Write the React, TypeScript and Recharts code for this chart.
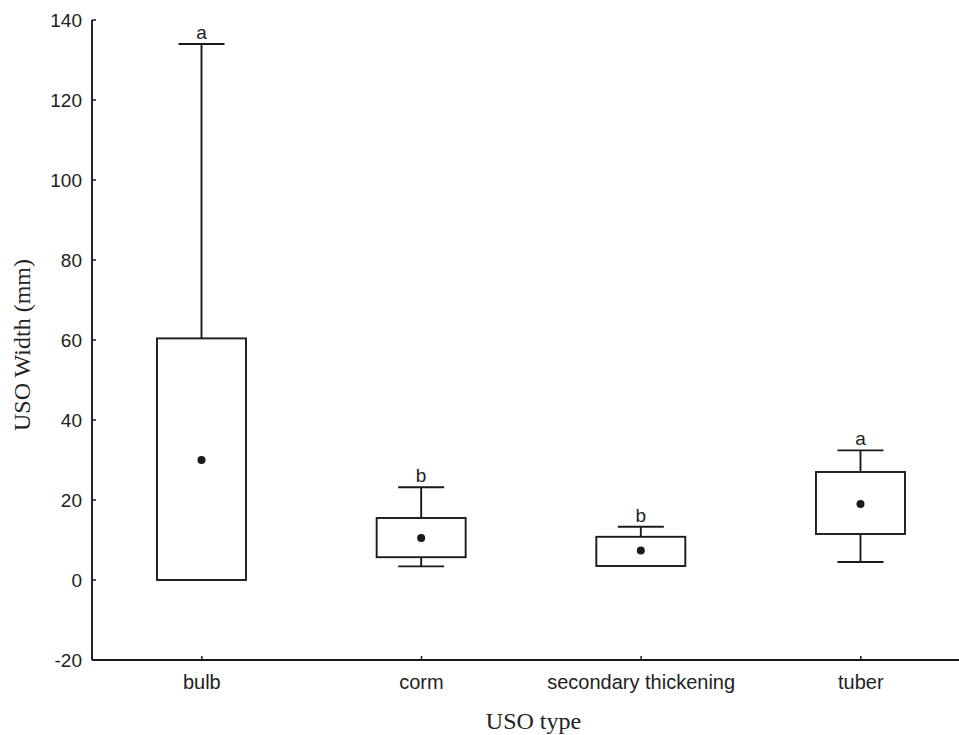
import React from 'react';
import { ComposedChart, XAxis, YAxis, Bar } from 'recharts';

const categories = ['bulb', 'corm', 'secondary thickening', 'tuber'];
const whiskerMax = [134, 23.2, 13.3, 32.4];
const upperQuartile = [60.4, 15.5, 10.8, 27.0];
const meanValues = [30, 10.5, 7.4, 19.0];
const lowerQuartile = [0, 5.7, 3.5, 11.5];
const whiskerMin = [0, 3.4, 3.5, 4.5];
const groupLetters = ['a', 'b', 'b', 'a'];
const yTicks = [-20, 0, 20, 40, 60, 80, 100, 120, 140];
const xPositions = [1, 2, 3, 4];

const rows = categories.map((name, i) => ({
  x: xPositions[i],
  name,
  range: [whiskerMin[i], whiskerMax[i]],
  max: whiskerMax[i],
  min: whiskerMin[i],
  q3: upperQuartile[i],
  q1: lowerQuartile[i],
  mean: meanValues[i],
  letter: groupLetters[i],
}));

const INK = '#1a1a1a';
const SANS = '"Liberation Sans", Arial, sans-serif';
const SERIF = '"Liberation Serif", "Times New Roman", serif';

const BoxShape = (props: any) => {
  const { x, y, width, height, payload } = props;
  const span = payload.max - payload.min;
  const s = span === 0 ? 0 : height / span;
  const pix = (v: number) => y + (payload.max - v) * s;
  const cx = x + width / 2;
  const capHalf = 23;
  const yMax = pix(payload.max);
  const yQ3 = pix(payload.q3);
  const yQ1 = pix(payload.q1);
  const yMin = pix(payload.min);
  const yMean = pix(payload.mean);
  return (
    <g>
      <line x1={cx} x2={cx} y1={yMax} y2={yQ3} stroke={INK} strokeWidth={1.9} />
      <line x1={cx - capHalf} x2={cx + capHalf} y1={yMax} y2={yMax} stroke={INK} strokeWidth={1.9} />
      {payload.min < payload.q1 && (
        <>
          <line x1={cx} x2={cx} y1={yQ1} y2={yMin} stroke={INK} strokeWidth={1.9} />
          <line x1={cx - capHalf} x2={cx + capHalf} y1={yMin} y2={yMin} stroke={INK} strokeWidth={1.9} />
        </>
      )}
      <rect x={x} y={yQ3} width={width} height={yQ1 - yQ3} fill="#fff" stroke={INK} strokeWidth={1.9} />
      <circle cx={cx} cy={yMean} r={4} fill={INK} />
      <text x={cx} y={yMax - 5} textAnchor="middle" fontFamily={SANS} fontSize={19} fill="#222">
        {payload.letter}
      </text>
    </g>
  );
};

const XTick = (props: any) => {
  const { x, y, payload } = props;
  const label = categories[xPositions.indexOf(payload.value)] ?? '';
  return (
    <g>
      <line x1={x} x2={x} y1={y} y2={y - 4} stroke={INK} strokeWidth={1.5} />
      <text x={x} y={y + 29} textAnchor="middle" fontFamily={SANS} fontSize={20} fill="#222">
        {label}
      </text>
    </g>
  );
};

const TopTick = (props: any) => {
  const { x, y } = props;
  return <line x1={x} x2={x} y1={y} y2={y + 4} stroke={INK} strokeWidth={1.5} />;
};

const YTick = (props: any) => {
  const { x, y, payload } = props;
  return (
    <g>
      <line x1={x} x2={x + 4} y1={y} y2={y} stroke={INK} strokeWidth={1.5} />
      <text x={x - 10} y={y + 7} textAnchor="end" fontFamily={SANS} fontSize={19} fill="#222">
        {payload.value}
      </text>
    </g>
  );
};

const XTitle = (props: any) => {
  const vb = props.viewBox || { x: 92, y: 660, width: 867, height: 60 };
  return (
    <text x={vb.x + vb.width / 2 + 8} y={vb.y + 69} textAnchor="middle" fontFamily={SERIF} fontSize={24} fill="#222">
      USO type
    </text>
  );
};

const YTitle = () => {
  const x = 30;
  const y = 345;
  return (
    <text x={x} y={y} transform={`rotate(-90, ${x}, ${y})`} textAnchor="middle" fontFamily={SERIF} fontSize={24} fill="#222">
      USO Width (mm)
    </text>
  );
};

export default function App() {
  return (
    <div style={{ width: 959, height: 735, overflow: 'hidden', background: '#fff' }}>
      <style>{`html,body{margin:0;padding:0;overflow:hidden;background:#fff}`}</style>
      <ComposedChart width={959} height={735} data={rows} margin={{ top: 20, right: 0, bottom: 15, left: 0 }}>
        <XAxis
          xAxisId="b"
          dataKey="x"
          type="number"
          domain={[0.5, 4.447]}
          ticks={xPositions}
          allowDataOverflow
          height={60}
          axisLine={{ stroke: INK, strokeWidth: 1.9 }}
          tickLine={false}
          tickSize={0}
          tickMargin={0}
          tick={<XTick />}
          interval={0}
          label={<XTitle />}
        />
        <XAxis
          xAxisId="t"
          orientation="top"
          dataKey="x"
          type="number"
          domain={[0.5, 4.447]}
          ticks={xPositions}
          allowDataOverflow
          height={0}
          axisLine={{ stroke: INK, strokeWidth: 1.9 }}
          tickLine={false}
          tickSize={0}
          tickMargin={0}
          tick={<TopTick />}
          interval={0}
        />
        <YAxis
          type="number"
          domain={[-20, 140]}
          ticks={yTicks}
          allowDataOverflow
          width={92}
          axisLine={{ stroke: INK, strokeWidth: 1.9 }}
          tickLine={false}
          tickSize={0}
          tickMargin={0}
          tick={<YTick />}
          interval={0}
          label={<YTitle />}
        />
        <Bar xAxisId="b" dataKey="range" barSize={89} shape={BoxShape} isAnimationActive={false} />
      </ComposedChart>
    </div>
  );
}
